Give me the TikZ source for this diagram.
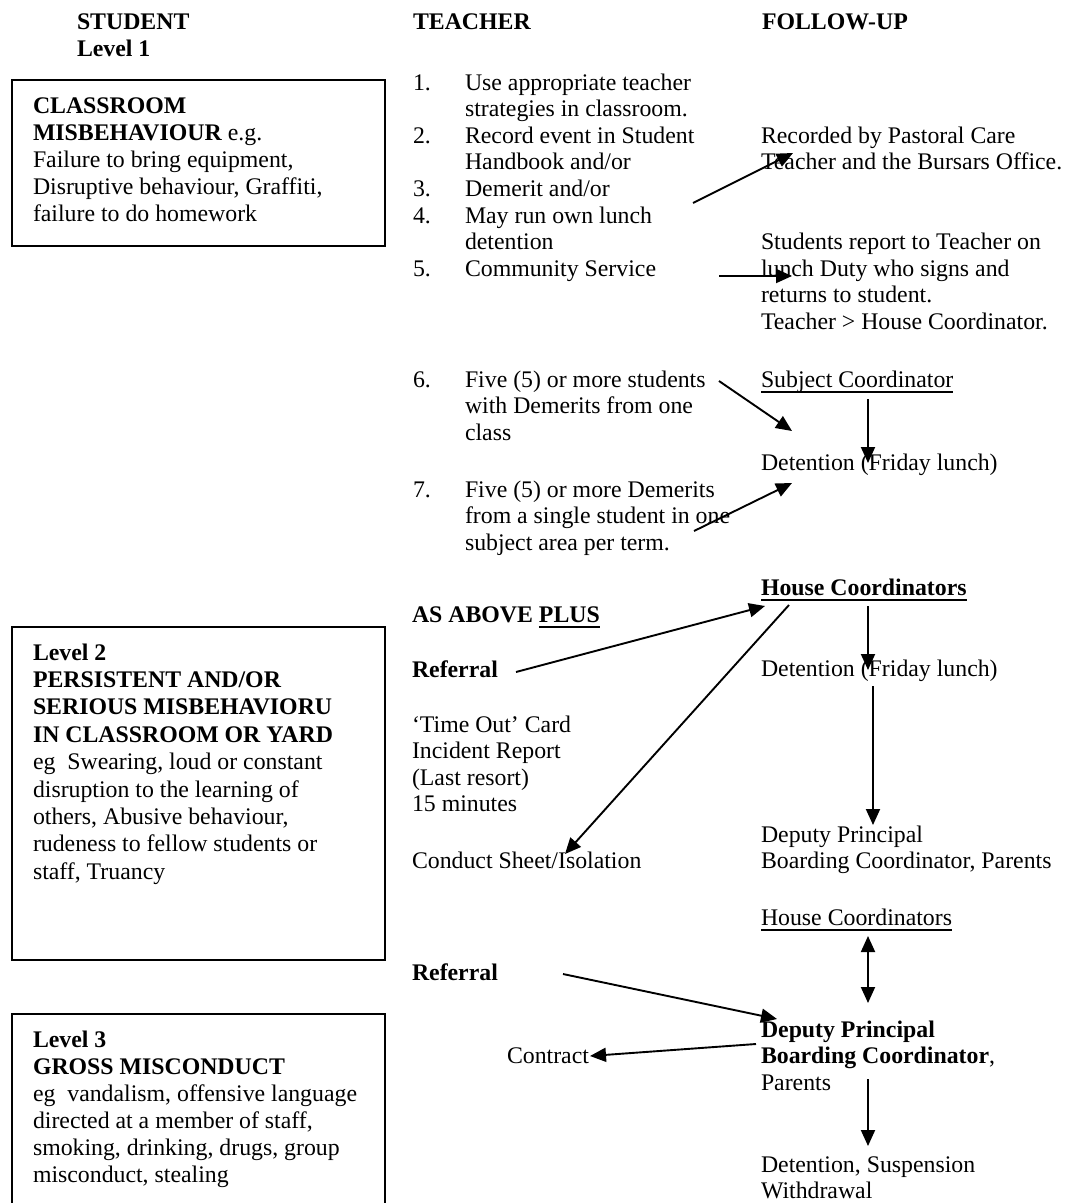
\documentclass[tikz,border=0pt]{standalone}
\usepackage{fontspec}
\setmainfont{Liberation Serif}
\usetikzlibrary{arrows.meta}
\newcommand\fszA{\fontsize{23.8}{26.6}\selectfont}
\newcommand\fszB{\fontsize{23.8}{27}\selectfont}
\newcommand\myul[3]{\setbox0\hbox{#3}\rlap{\rule[#1]{\wd0}{#2}}\box0}
\newcommand\ulr[1]{\myul{-5.7pt}{1.4pt}{#1}}
\newcommand\ulb[1]{\myul{-6.4pt}{2.6pt}{#1}}
\begin{document}
\begin{tikzpicture}[x=1pt,y=-1pt,
  txt/.style={anchor=north west, inner sep=0pt, outer sep=0pt, align=left, font=\fszA, yshift=18.62pt},
  btxt/.style={anchor=north west, inner sep=0pt, outer sep=0pt, align=left, font=\fszB, yshift=18.9pt},
  frame/.style={draw, line width=1.5pt},
  arr/.style={line width=1.9pt, -{Triangle[length=16pt,width=14pt]}},
  darr/.style={line width=1.9pt, {Triangle[length=16pt,width=14pt]}-{Triangle[length=16pt,width=14pt]}},
]
\useasboundingbox (0,0) rectangle (1070,1203);

% ---------- headers ----------
\node[btxt, font=\fszB\bfseries] (hstud) at (77,29) {\strut STUDENT\\Level 1};
\node[txt, font=\fszA\bfseries] (hteach) at (413,29) {\strut TEACHER};
\node[txt, font=\fszA\bfseries] (hfol) at (762,29) {\strut FOLLOW-UP};

% ---------- student boxes ----------
\draw[frame] (12,80) rectangle (385,246);
\node[btxt] (box1) at (33,113) {\strut\textbf{CLASSROOM}\\\textbf{MISBEHAVIOUR} e.g.\\Failure to bring equipment,\\Disruptive behaviour, Graffiti,\\failure to do homework};

\draw[frame] (12,627) rectangle (385,960);
\node[btxt, font=\fontsize{23.8}{27.4}\selectfont, yshift=0.28pt] (box2) at (33,660) {\strut\textbf{Level 2}\\\textbf{PERSISTENT AND/OR}\\\textbf{SERIOUS MISBEHAVIORU}\\\textbf{IN CLASSROOM OR YARD}\\eg\ \ Swearing, loud or constant\\disruption to the learning of\\others, Abusive behaviour,\\rudeness to fellow students or\\staff, Truancy};

\draw[frame] (12,1230) -- (12,1014) -- (385,1014) -- (385,1230);
\node[btxt] (box3) at (33,1047) {\strut\textbf{Level 3}\\\textbf{GROSS MISCONDUCT}\\eg\ \ vandalism, offensive language\\directed at a member of staff,\\smoking, drinking, drugs, group\\misconduct, stealing};

% ---------- teacher column ----------
\node[txt] (n1) at (413,90) {\strut 1.};
\node[txt] (t1) at (465,90) {\strut Use appropriate teacher\\strategies in classroom.};
\node[txt] (n2) at (413,143.2) {\strut 2.};
\node[txt] (t2) at (465,143.2) {\strut Record event in Student\\Handbook and/or};
\node[txt] (n3) at (413,196.4) {\strut 3.};
\node[txt] (t3) at (465,196.4) {\strut Demerit and/or};
\node[txt] (n4) at (413,223) {\strut 4.};
\node[txt] (t4) at (465,223) {\strut May run own lunch\\detention};
\node[txt] (n5) at (413,276.2) {\strut 5.};
\node[txt] (t5) at (465,276.2) {\strut Community Service};
\node[txt] (n6) at (413,387) {\strut 6.};
\node[txt] (t6) at (465,387) {\strut Five (5) or more students\\with Demerits from one\\class};
\node[txt] (n7) at (413,497) {\strut 7.};
\node[txt] (t7) at (465,497) {\strut Five (5) or more Demerits\\from a single student in one\\subject area per term.};

\node[txt, font=\fszA\bfseries] (asabove) at (412,622) {\strut AS ABOVE \ulb{PLUS}};
\node[txt, font=\fszA\bfseries] (ref1) at (412,677) {\strut Referral};
\node[txt] (timeout) at (412,732) {\strut `Time Out' Card\\Incident Report\\(Last resort)\\15 minutes};
\node[txt] (conduct) at (412,868) {\strut Conduct Sheet/Isolation};
\node[txt, font=\fszA\bfseries] (ref2) at (412,980) {\strut Referral};
\node[txt] (contract) at (507,1063) {\strut Contract};

% ---------- follow-up column ----------
\node[txt] (rec) at (761,143.2) {\strut Recorded by Pastoral Care\\Teacher and the Bursars Office.};
\node[txt] (stud) at (761,249.6) {\strut Students report to Teacher on\\lunch Duty who signs and\\returns to student.\\Teacher > House Coordinator.};
\node[txt] (subj) at (761,387) {\strut\ulr{Subject Coordinator}};
\node[txt] (det1) at (761,470) {\strut Detention (Friday lunch)};
\node[txt, font=\fszA\bfseries] (house1) at (761,595) {\strut\ulb{House Coordinators}};
\node[txt] (det2) at (761,676) {\strut Detention (Friday lunch)};
\node[txt] (dep1) at (761,842) {\strut Deputy Principal\\Boarding Coordinator, Parents};
\node[txt] (house2) at (761,925) {\strut\ulr{House Coordinators}};
\node[txt] (dep2) at (761,1037) {\strut\textbf{Deputy Principal}\\\textbf{Boarding Coordinator},\\Parents};
\node[txt] (susp) at (761,1172) {\strut Detention, Suspension\\Withdrawal};

% ---------- connectors ----------
\coordinate (a1s) at (693,203);  \coordinate (a1e) at (793,153);
\coordinate (a2s) at (719,276);  \coordinate (a2e) at (792,276);
\coordinate (a3s) at (719,381);  \coordinate (a3e) at (792,431);
\coordinate (a4s) at (868,399);  \coordinate (a4e) at (868,463);
\coordinate (a5s) at (694,531);  \coordinate (a5e) at (792,483);
\coordinate (a6s) at (516,672);  \coordinate (a6e) at (765,606);
\coordinate (a7s) at (789,605);  \coordinate (a7e) at (565,854);
\coordinate (a8s) at (868,606);  \coordinate (a8e) at (868,670);
\coordinate (a9s) at (873,686);  \coordinate (a9e) at (873,825);
\coordinate (a10s) at (868,936); \coordinate (a10e) at (868,1003);
\coordinate (a11s) at (563,974); \coordinate (a11e) at (777,1019);
\coordinate (a12s) at (756,1044);\coordinate (a12e) at (590,1056);
\coordinate (a13s) at (868,1079);\coordinate (a13e) at (868,1146);

\draw[arr] (a1s) -- (a1e);
\draw[arr] (a2s) -- (a2e);
\draw[arr] (a3s) -- (a3e);
\draw[arr] (a4s) -- (a4e);
\draw[arr] (a5s) -- (a5e);
\draw[arr] (a6s) -- (a6e);
\draw[arr] (a7s) -- (a7e);
\draw[arr] (a8s) -- (a8e);
\draw[arr] (a9s) -- (a9e);
\draw[darr] (a10s) -- (a10e);
\draw[arr] (a11s) -- (a11e);
\draw[arr] (a12s) -- (a12e);
\draw[arr] (a13s) -- (a13e);
\end{tikzpicture}
\end{document}
